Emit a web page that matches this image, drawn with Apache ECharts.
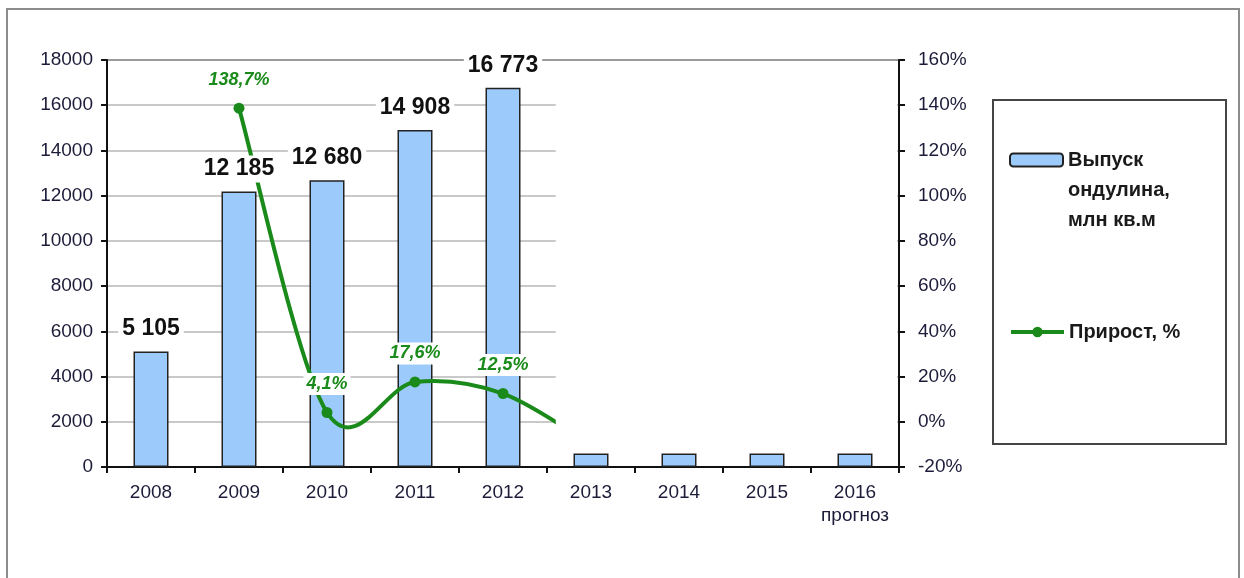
<!DOCTYPE html>
<html><head><meta charset="utf-8">
<script src="https://cdn.jsdelivr.net/npm/echarts@6/dist/echarts.min.js"></script>
<style>html,body{margin:0;padding:0;background:#fff}#c{width:1244px;height:578px}</style>
</head><body><div id="c"></div>
<script>
// ---- data ----
const years = ['2008', '2009', '2010', '2011', '2012', '2013', '2014', '2015', '2016\nпрогноз'];
const output = [5105, 12185, 12680, 14908, 16773, 600, 600, 600, 600];   // 2013+ only bottom stub visible
const growth = [null, 138.7, 4.1, 17.6, 12.5, -10, null, null, null];   // 2013 hidden (estimated)
const leftAxis = { min: 0, max: 18000, interval: 2000 };
const rightAxis = { min: -20, max: 160, interval: 20 };
const barName = 'Выпуск\nондулина,\nмлн кв.м';
const lineName = 'Прирост, %';
const visibleLabelsUpTo = 4; // labels shown through 2012

const FONT = "'Liberation Sans', Arial, sans-serif";
const GREEN = '#1a8a1a';

const barLabelData = output.map((v, i) => i > visibleLabelsUpTo ? { value: v, label: { show: false } } : v);
const lineData = growth.map((v, i) => (v !== null && i > visibleLabelsUpTo) ? { value: v, label: { show: false }, symbol: 'none' } : (v === null ? '-' : v));
const firstGrowth = growth.findIndex(v => v !== null);

const gridColors = [];
for (let i = 0; i < 10; i++) gridColors.push(i === 9 ? '#9a9a9a' : '#c9c9c9');

// Excel-like (Catmull-Rom) smoothed curve through the growth points
function renderCurve(params, api) {
  const pts = [];
  growth.forEach((v, i) => { if (v !== null) pts.push(api.coord([i, v])); });
  const children = [];
  for (let k = 0; k < pts.length - 1; k++) {
    const p0 = pts[Math.max(k - 1, 0)], p1 = pts[k], p2 = pts[k + 1], p3 = pts[Math.min(k + 2, pts.length - 1)];
    children.push({
      type: 'bezierCurve',
      shape: {
        x1: p1[0], y1: p1[1], x2: p2[0], y2: p2[1],
        cpx1: p1[0] + (p2[0] - p0[0]) / 6, cpy1: p1[1] + (p2[1] - p0[1]) / 6,
        cpx2: p2[0] - (p3[0] - p1[0]) / 6, cpy2: p2[1] - (p3[1] - p1[1]) / 6
      },
      style: { stroke: GREEN, lineWidth: 4, fill: null, lineCap: 'round' }
    });
  }
  return { type: 'group', children };
}

const chart = echarts.init(document.getElementById('c'), null, { renderer: 'canvas' });
const option = {
  animation: false,
  backgroundColor: '#fff',
  textStyle: { fontFamily: FONT },
  grid: { left: 107, right: 345, top: 60, bottom: 111 },
  legend: [
    {
      data: [barName], orient: 'vertical', left: 1009, top: 85, padding: 0,
      itemWidth: 53, itemHeight: 13,
      formatter: n => '\n\n' + n,
      textStyle: { fontSize: 20, fontWeight: 'bold', color: '#1a1a1a', fontFamily: FONT, lineHeight: 30 }
    },
    {
      data: [lineName], orient: 'vertical', left: 1009, top: 320, padding: 0,
      itemWidth: 53, itemHeight: 13,
      lineStyle: { color: GREEN, width: 4, opacity: 1, type: 'solid' },
      textStyle: { fontSize: 20, fontWeight: 'bold', color: '#1a1a1a', fontFamily: FONT, lineHeight: 24 }
    }
  ],
  xAxis: {
    type: 'category', data: years, boundaryGap: true,
    axisLine: { lineStyle: { color: '#111', width: 2 } },
    axisTick: { show: true, length: 6, lineStyle: { color: '#111', width: 2 } },
    axisLabel: { interval: 0, fontSize: 19, color: '#1c1c3a', margin: 14, lineHeight: 23, fontFamily: FONT }
  },
  yAxis: [
    {
      type: 'value', min: leftAxis.min, max: leftAxis.max, interval: leftAxis.interval,
      axisLine: { show: true, lineStyle: { color: '#111', width: 2 } },
      axisTick: { show: true, length: 6, lineStyle: { color: '#111', width: 2 } },
      axisLabel: { fontSize: 19, color: '#1c1c3a', margin: 14, fontFamily: FONT, formatter: v => String(v) },
      splitLine: { show: true, lineStyle: { color: gridColors, width: 2 } }
    },
    {
      type: 'value', min: rightAxis.min, max: rightAxis.max, interval: rightAxis.interval,
      position: 'right',
      axisLine: { show: true, lineStyle: { color: '#111', width: 2 } },
      axisTick: { show: true, length: 6, lineStyle: { color: '#111', width: 2 } },
      axisLabel: { fontSize: 19, color: '#1c1c3a', margin: 19, formatter: '{value}%', fontFamily: FONT },
      splitLine: { show: false }
    }
  ],
  series: [
    {
      name: barName, type: 'bar', yAxisIndex: 0, data: output, barWidth: 35, z: 2,
      itemStyle: { color: '#9ccbfb', borderColor: '#222', borderWidth: 1.5 }
    },
    {
      // transparent twin of the bars carrying the value labels above the curve
      name: 'barLabels', type: 'bar', yAxisIndex: 0, data: barLabelData, barWidth: 35, barGap: '-100%', z: 5,
      silent: true, itemStyle: { color: 'rgba(0,0,0,0)', borderWidth: 0 },
      label: {
        show: true, position: 'top', distance: 9,
        fontSize: 23, fontWeight: 'bold', color: '#111', fontFamily: FONT,
        backgroundColor: '#fff', padding: [2, 4],
        formatter: p => String(p.value).replace(/\B(?=(\d{3})+(?!\d))/g, ' ')
      }
    },
    {
      name: 'curve', type: 'custom', yAxisIndex: 1, z: 3, silent: true,
      data: [[firstGrowth, growth[firstGrowth]]],
      renderItem: renderCurve
    },
    {
      name: lineName, type: 'line', yAxisIndex: 1, data: lineData, z: 4,
      symbol: 'circle', symbolSize: 11, connectNulls: false,
      lineStyle: { color: GREEN, width: 4, opacity: 0 }, itemStyle: { color: GREEN },
      label: {
        show: true, position: 'top', distance: 12,
        fontSize: 18, fontWeight: 'bold', fontStyle: 'italic', color: GREEN, fontFamily: FONT,
        backgroundColor: '#fff', padding: [2, 3],
        formatter: p => String(p.value).replace('.', ',') + '%'
      }
    }
  ]
};
chart.setOption(option);

// white mask over the forecast area (as in the reference), derived from axis scales
const xHidden = chart.convertToPixel({ xAxisIndex: 0 }, years[visibleLabelsUpTo]);
const xNext = chart.convertToPixel({ xAxisIndex: 0 }, years[visibleLabelsUpTo + 1]);
const maskLeft = xHidden + (xNext - xHidden) * 0.6;
const maskRight = 1244 - 345 - 2;
const maskTop = chart.convertToPixel({ yAxisIndex: 0 }, leftAxis.max) + 2;
const maskBottom = chart.convertToPixel({ yAxisIndex: 0 }, output[visibleLabelsUpTo + 1]) - 2;

chart.setOption({
  graphic: [
    { type: 'rect', z: 100, silent: true, shape: { x: maskLeft, y: maskTop, width: maskRight - maskLeft, height: maskBottom - maskTop }, style: { fill: '#fff' } },
    { type: 'rect', z: 101, silent: true, shape: { x: 7, y: 9, width: 1232, height: 620 }, style: { fill: 'none', stroke: '#8c8c8c', lineWidth: 2 } },
    { type: 'rect', z: 101, silent: true, shape: { x: 993, y: 100, width: 233, height: 344 }, style: { fill: 'none', stroke: '#444', lineWidth: 2 } }
  ]
});
</script>
</body></html>
